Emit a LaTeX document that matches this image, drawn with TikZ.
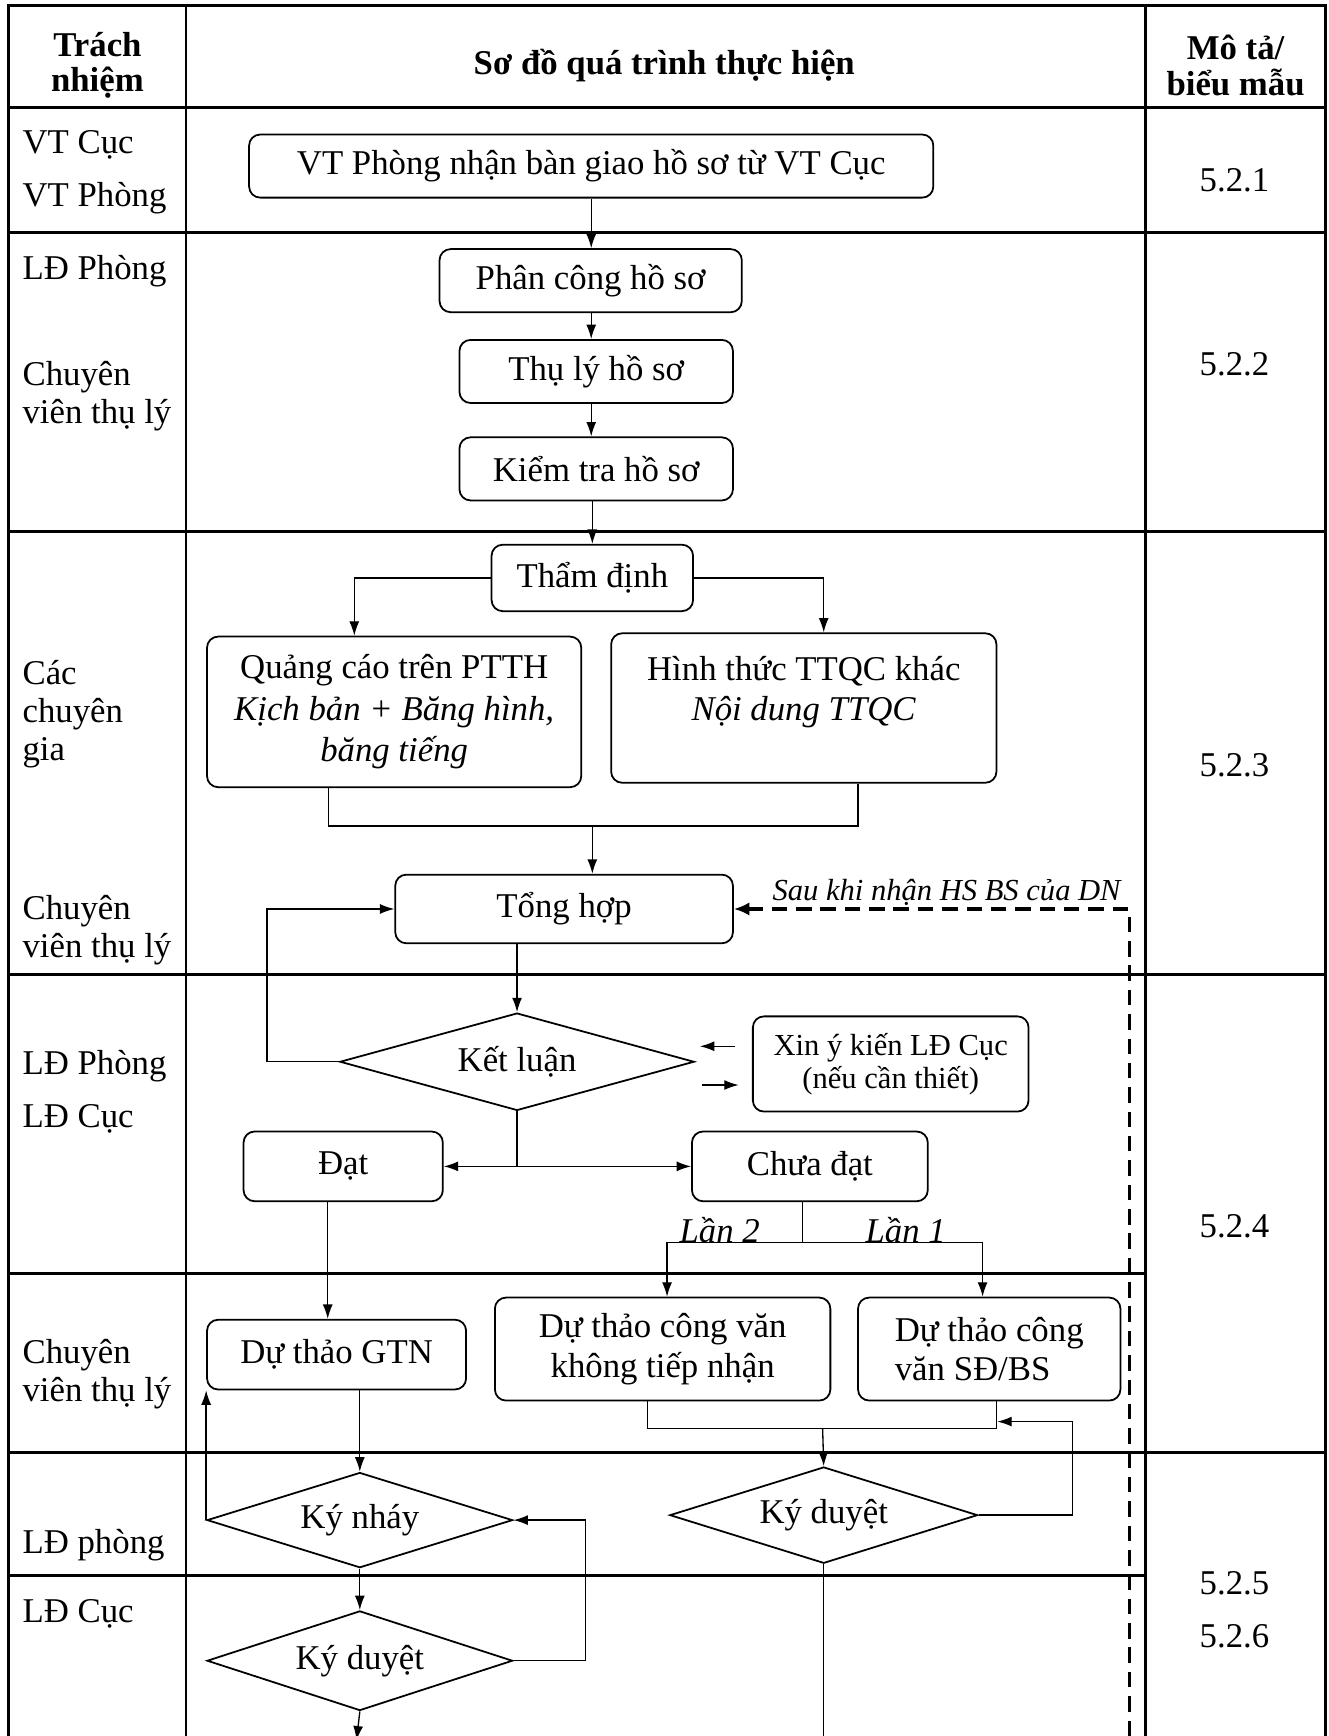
\documentclass[tikz,border=0pt]{standalone}
\usepackage{fontspec}
\setmainfont{Liberation Serif}
\usepackage{tikz}
\usetikzlibrary{arrows.meta,shapes.geometric}

\begin{document}
\begin{tikzpicture}[x=0.5pt,y=-0.5pt,
    font=\fontsize{15.7}{18}\selectfont,
    grid/.style={line width=1.3pt},
    box/.style={draw, line width=0.8pt, rounded corners=5pt, align=center, inner sep=2pt},
    cond/.style={draw, line width=0.8pt, diamond, aspect=3.2, inner sep=0pt},
    flow/.style={line width=0.6pt, -{Latex[length=6.5pt,width=4.5pt]}},
    link/.style={line width=0.6pt},
    backflow/.style={line width=1.5pt, dash pattern=on 7pt off 4pt, -{Latex[length=7pt,width=6pt]}},
    resp/.style={anchor=west, align=left, inner sep=0pt, yshift=-1.5pt, font=\fontsize{15.7}{17.2}\selectfont},
    head/.style={align=center, inner sep=0pt, yshift=-1.5pt, font=\fontsize{15.7}{16}\selectfont\bfseries},
    code/.style={inner sep=0pt, yshift=-1.5pt},
    small/.style={font=\fontsize{13.8}{15}\selectfont},
    tag/.style={inner sep=0pt, yshift=-1.5pt, font=\fontsize{15.7}{18}\selectfont\itshape}]
\useasboundingbox (0,0) rectangle (1200,1568);

% table
\draw[grid] (8,1568) -- (8,5) -- (1197,5) -- (1197,1568);
\foreach \x in {168,1035} \draw[grid] (\x,5) -- (\x,1568);
\foreach \y in {97,210,480,880,1312} \draw[grid] (8,\y) -- (1197,\y);
\foreach \y in {1150,1423} \draw[grid] (8,\y) -- (1035,\y);

\node[head] (hResp) at (88,56) {Trách\\nhiệm};
\node[head] (hFlow) at (600,56) {Sơ đồ quá trình thực hiện};
\node[head] (hForm) at (1116,56) {Mô tả/\\biểu mẫu};

% who does it
\node[resp] (rVTCuc) at (20,128) {VT Cục};
\node[resp] (rVTPhong) at (20,176) {VT Phòng};
\node[resp] (rLDPhong1) at (20,242) {LĐ Phòng};
\node[resp] (rCV1) at (20,355) {Chuyên\\viên thụ lý};
\node[resp] (rExperts) at (20,642) {Các\\chuyên\\gia};
\node[resp] (rCV2) at (20,837) {Chuyên\\viên thụ lý};
\node[resp] (rLDPhong2) at (20,960) {LĐ Phòng};
\node[resp] (rLDCuc1) at (20,1008) {LĐ Cục};
\node[resp] (rCV3) at (20,1238) {Chuyên\\viên thụ lý};
\node[resp] (rLDPhong3) at (20,1393) {LĐ phòng};
\node[resp] (rLDCuc2) at (20,1455) {LĐ Cục};

% forms
\node[code] (f1) at (1115,160) {5.2.1};
\node[code] (f2) at (1115,326) {5.2.2};
\node[code] (f3) at (1115,688) {5.2.3};
\node[code] (f4) at (1115,1105) {5.2.4};
\node[code] (f5) at (1115,1427) {5.2.5};
\node[code] (f6) at (1115,1475) {5.2.6};

% flow
\node[box, minimum width=309pt, minimum height=28.5pt] (recv) at (534,150) {VT Phòng nhận bàn giao hồ sơ từ VT Cục};
\node[box, minimum width=136.5pt, minimum height=28.5pt] (assign) at (533.5,253.5) {Phân công hồ sơ};
\node[box, minimum width=123.5pt, minimum height=28.5pt] (handle) at (538.5,335.5) {Thụ lý hồ sơ};
\node[box, minimum width=123.5pt, minimum height=28.5pt] (check) at (538.5,423.5) {Kiểm tra hồ sơ};
\node[box, minimum width=91pt, minimum height=30pt] (appraise) at (535,522) {Thẩm định};
\node[box, minimum width=169pt, minimum height=68pt, font=\fontsize{15.7}{18.75}\selectfont] (tv) at (356,643)
    {Quảng cáo trên PTTH\\ \textit{Kịch bản + Băng hình,}\\ \textit{băng tiếng}};
\node[box, minimum width=174pt, minimum height=67.5pt] (other) at (726,639.5)
    {Hình thức TTQC khác\\ \textit{Nội dung TTQC}\\ \mbox{}};
\node[box, minimum width=152.5pt, minimum height=31pt] (merge) at (509.5,821) {Tổng hợp};
\node[cond, aspect=3.6, minimum width=160pt, minimum height=44pt] (verdict) at (467,959) {Kết luận};
\node[box, small, minimum width=124.5pt, minimum height=43pt] (consult) at (804.5,961) {Xin ý kiến LĐ Cục\\(nếu cần thiết)};
\node[box, minimum width=90pt, minimum height=31.5pt] (pass) at (310,1053.5) {Đạt};
\node[box, minimum width=106.5pt, minimum height=31.5pt] (fail) at (731.5,1053.5) {Chưa đạt};
\node[box, minimum width=151.5pt, minimum height=46.5pt] (reject) at (598.5,1218.5) {Dự thảo công văn\\không tiếp nhận};
\node[box, align=left, minimum width=118.5pt, minimum height=46.5pt] (amend) at (893.5,1218.5) {Dự thảo công\\văn SĐ/BS};
\node[box, minimum width=117pt, minimum height=31.5pt] (draft) at (304,1223.5) {Dự thảo GTN};
\node[cond, minimum width=138pt, minimum height=43pt] (initial) at (325,1373) {Ký nháy};
\node[cond, minimum width=139pt, minimum height=43.5pt] (signR) at (744,1368.5) {Ký duyệt};
\node[cond, aspect=3.05, minimum width=138pt, minimum height=45pt] (signL) at (325,1500) {Ký duyệt};

\node[tag, font=\fontsize{13.8}{15}\selectfont\itshape] (note) at (855,803) {Sau khi nhận HS BS của DN};
\node[tag] (lan2) at (650,1108) {Lần 2};
\node[tag] (lan1) at (818,1108) {Lần 1};

\coordinate (join1) at (535,746);
\coordinate (fork) at (725,1122);
\coordinate (join2) at (743,1290);
\coordinate (dnBot) at (1020,1568);
\coordinate (outL) at (322,1572);
\coordinate (outR) at (744,1568);

\draw[flow] (recv.south) -- (recv.south |- assign.north);
\draw[flow] (recv.south |- assign.south) -- (recv.south |- handle.north);
\draw[flow] (recv.south |- handle.south) -- (recv.south |- check.north);
\draw[flow] (appraise.north |- check.south) -- (appraise.north);
\draw[flow] (appraise.west) -| ([xshift=-18pt]tv.north);
\draw[flow] (appraise.east) -| ([xshift=9pt]other.north);
\draw[link] ([xshift=-29.5pt]tv.south) |- (join1) -| ([xshift=24.5pt]other.south);
\draw[flow] (join1) -- (join1 |- merge.north);
\draw[backflow] (dnBot) |- (merge.east);
\draw[flow] (verdict.north |- merge.south) -- (verdict.north);
\draw[flow] (verdict.west) -- ++(-65,0) |- (merge.west);
\draw[flow] ([xshift=-7.5pt,yshift=8pt]consult.west) -- ++(-32,0);
\draw[flow] ([xshift=-22.5pt,yshift=-9.5pt]consult.west) -- ++(33,0);
\draw[flow] (verdict.south) |- (pass.east);
\draw[flow] (verdict.south) |- (fail.west);
\draw[link] (fork |- fail.south) -- (fork);
\draw[flow] (fork) -| ([xshift=2pt]reject.north);
\draw[flow] (fork) -| ([xshift=-3pt]amend.north);
\draw[flow] ([xshift=-7pt]pass.south) -- ([xshift=-7pt]pass.south |- draft.north);
\draw[link] ([xshift=-6.75pt]reject.south) |- (join2) -| ([xshift=3.25pt]amend.south);
\draw[flow] (join2) -- (signR.north);
\draw[flow] (signR.east) -- ++(85,0) -- ++(0,-84.5) -- ++(-68,0);
\draw[link] (signR.south) -- (outR);
\draw[flow] (initial.north |- draft.south) -- (initial.north);
\draw[flow] (initial.west) -- (initial.west |- draft.south);
\draw[flow] (initial.south) -- (signL.north);
\draw[flow] (signL.east) -- ++(65,0) |- (initial.east);
\draw[flow] (signL.south) -- (outL);
\end{tikzpicture}
\end{document}
